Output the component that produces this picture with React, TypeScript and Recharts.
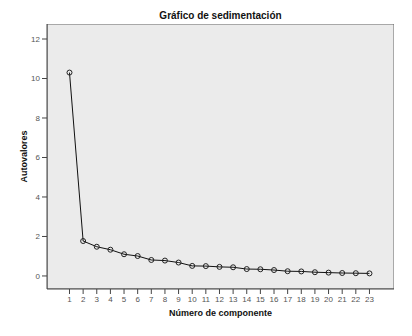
import React from 'react';
import { LineChart, Line, XAxis, YAxis, ReferenceArea } from 'recharts';

// Screen plot (sedimentación): component number vs eigenvalue
const COMPONENTS = [1, 2, 3, 4, 5, 6, 7, 8, 9, 10, 11, 12, 13, 14, 15, 16, 17, 18, 19, 20, 21, 22, 23];
const EIGENVALUES = [10.3, 1.77, 1.48, 1.33, 1.1, 1.01, 0.81, 0.78, 0.68, 0.51, 0.5, 0.46, 0.44, 0.35, 0.34, 0.3, 0.24, 0.23, 0.19, 0.17, 0.15, 0.14, 0.13];
const Y_TICKS = [0, 2, 4, 6, 8, 10, 12];

const X_DOMAIN: [number, number] = [-0.65, 24.8];
const Y_DOMAIN: [number, number] = [-0.66, 12.76];

const FONT = '"Liberation Sans", Arial, sans-serif';

const data = COMPONENTS.map((c, i) => ({ comp: c, value: EIGENVALUES[i] }));

export default function App() {
  return (
    <div style={{ position: 'absolute', left: 0, top: 0, width: 412, height: 336, background: '#fff', fontFamily: FONT }}>
      <div
        style={{
          position: 'absolute',
          top: 10,
          left: 47,
          width: 347,
          textAlign: 'center',
          fontSize: 10,
          fontWeight: 'bold',
          color: '#111',
        }}
      >
        Gráfico de sedimentación
      </div>
      <LineChart width={412} height={336} data={data} margin={{ top: 24, right: 18, bottom: 17, left: 7 }}>
        <ReferenceArea
          x1={X_DOMAIN[0]}
          x2={X_DOMAIN[1]}
          y1={Y_DOMAIN[0]}
          y2={Y_DOMAIN[1]}
          fill="#ebebeb"
          fillOpacity={1}
          stroke="#666"
          strokeWidth={1}
          ifOverflow="hidden"
        />
        <XAxis
          dataKey="comp"
          type="number"
          domain={X_DOMAIN}
          ticks={COMPONENTS}
          allowDataOverflow
          height={30}
          tickSize={5}
          tickMargin={2}
          axisLine={{ stroke: '#444' }}
          tickLine={{ stroke: '#444' }}
          tick={{ fontSize: 8, fill: '#555', fontFamily: FONT }}
          interval={0}
          label={{ value: 'Número de componente', position: 'insideBottom', offset: 3, fontSize: 9, fontWeight: 'bold', fill: '#111', fontFamily: FONT }}
        />
        <YAxis
          type="number"
          domain={Y_DOMAIN}
          ticks={Y_TICKS}
          allowDataOverflow
          width={40}
          tickSize={5}
          tickMargin={2}
          axisLine={{ stroke: '#444' }}
          tickLine={{ stroke: '#444' }}
          tick={{ fontSize: 8, fill: '#555', fontFamily: FONT }}
          label={{ value: 'Autovalores', angle: -90, position: 'insideLeft', offset: 17, fontSize: 9, fontWeight: 'bold', fill: '#111', fontFamily: FONT, style: { textAnchor: 'middle' } }}
        />
        <Line
          dataKey="value"
          stroke="#111"
          strokeWidth={1}
          isAnimationActive={false}
          dot={{ r: 2.5, stroke: '#222', strokeWidth: 1, fill: 'none' }}
          activeDot={false}
        />
      </LineChart>
    </div>
  );
}
